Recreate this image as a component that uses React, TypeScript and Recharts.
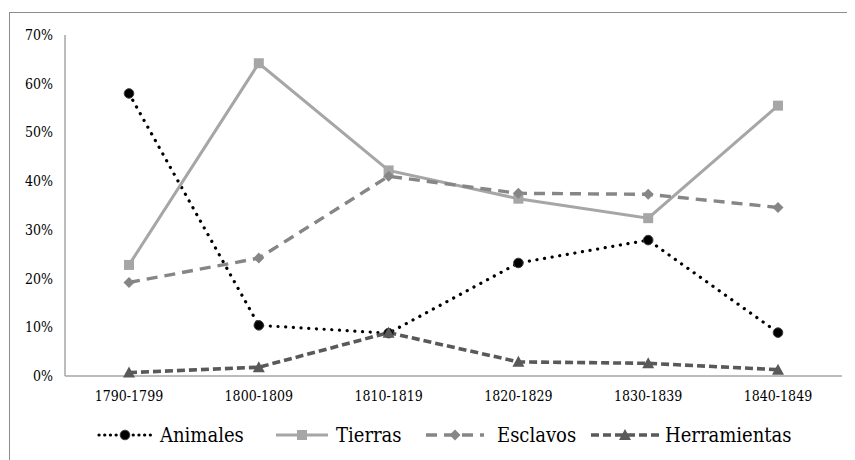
import { LineChart, Line, XAxis, YAxis } from "recharts";

const decades = ["1790-1799", "1800-1809", "1810-1819", "1820-1829", "1830-1839", "1840-1849"];
const animales = [58.0, 10.4, 8.8, 23.2, 27.9, 8.9];
const tierras = [22.8, 64.2, 42.2, 36.4, 32.4, 55.5];
const esclavos = [19.2, 24.2, 41.0, 37.5, 37.3, 34.6];
const herramientas = [0.7, 1.8, 8.9, 2.9, 2.6, 1.3];
const yTicks = [0, 10, 20, 30, 40, 50, 60, 70];

const data = decades.map((d, i) => ({
  decade: d,
  animales: animales[i],
  tierras: tierras[i],
  esclavos: esclavos[i],
  herramientas: herramientas[i],
}));

type Shape = "circle" | "square" | "diamond" | "triangle";

const series = [
  { key: "animales", name: "Animales", color: "#000000", width: 3.2, dash: "0.1 7.6", shape: "circle" as Shape, left: 97, iconW: 56, textLeft: 160 },
  { key: "tierras", name: "Tierras", color: "#A6A6A6", width: 3, dash: undefined, shape: "square" as Shape, left: 274, iconW: 56, textLeft: 336 },
  { key: "esclavos", name: "Esclavos", color: "#868686", width: 3.4, dash: "11 7", shape: "diamond" as Shape, left: 424, iconW: 62, textLeft: 497 },
  { key: "herramientas", name: "Herramientas", color: "#595959", width: 3.6, dash: "8 4", shape: "triangle" as Shape, left: 589, iconW: 72, textLeft: 665 },
];

function Marker({ cx, cy, shape, color }: { cx: number; cy: number; shape: Shape; color: string }) {
  if (cx == null || cy == null) return null;
  if (shape === "circle")
    return <circle cx={cx} cy={cy} r={4.8} fill="#000" stroke="#404040" strokeWidth={1} />;
  if (shape === "square")
    return <rect x={cx - 5} y={cy - 5} width={10} height={10} fill={color} />;
  if (shape === "diamond")
    return <polygon points={`${cx},${cy - 5.5} ${cx + 5.5},${cy} ${cx},${cy + 5.5} ${cx - 5.5},${cy}`} fill={color} />;
  return <polygon points={`${cx},${cy - 6} ${cx + 6},${cy + 5} ${cx - 6},${cy + 5}`} fill={color} />;
}

function LegendIcon({ s }: { s: (typeof series)[number] }) {
  return (
    <svg width={s.iconW} height={20} style={{ display: "block" }}>
      <line
        x1={2}
        y1={10}
        x2={s.iconW - 2}
        y2={10}
        stroke={s.color}
        strokeWidth={s.width}
        strokeDasharray={s.key === "animales" ? "0.1 5.6" : s.dash}
        strokeLinecap={s.key === "animales" ? "round" : "butt"}
      />
      <Marker cx={s.iconW / 2} cy={10} shape={s.shape} color={s.color} />
    </svg>
  );
}

const font = "'DejaVu Serif Condensed', 'DejaVu Serif', serif";

export default function App() {
  return (
    <div
      style={{
        position: "relative",
        width: 847,
        height: 452,
        overflow: "hidden",
        fontFamily: font,
        fontStretch: "condensed",
      }}
    >
      <LineChart width={847} height={452} data={data} margin={{ top: 27, right: 13, left: 7, bottom: 54 }}>
        <XAxis
          dataKey="decade"
          tickLine={false}
          axisLine={{ stroke: "#a6a6a6", strokeWidth: 1.5 }}
          tick={{ fontSize: 14, fill: "#000", fontFamily: font }}
          tickMargin={9}
          height={30}
          interval={0}
          padding={{ left: 64, right: 64 }}
        />
        <YAxis
          domain={[0, 70]}
          ticks={yTicks}
          tickFormatter={(v: number) => `${v}%`}
          tickLine={false}
          axisLine={{ stroke: "#a6a6a6", strokeWidth: 1.5 }}
          tick={{ fontSize: 14, fill: "#000", fontFamily: font }}
          tickMargin={6}
          width={50}
        />
        {series.map((s) => (
          <Line
            key={s.key}
            dataKey={s.key}
            name={s.name}
            type="linear"
            stroke={s.color}
            strokeWidth={s.width}
            strokeDasharray={s.dash}
            strokeLinecap={s.key === "animales" ? "round" : "butt"}
            dot={(p: any) => <Marker key={`${s.key}-${p.index}`} cx={p.cx} cy={p.cy} shape={s.shape} color={s.color} />}
            activeDot={false}
            isAnimationActive={false}
          />
        ))}
      </LineChart>
      <div
        style={{
          position: "absolute",
          left: 1,
          top: 4,
          width: 900,
          height: 500,
          borderTop: "1px solid #8c8c8c",
          borderLeft: "1px solid #8c8c8c",
          pointerEvents: "none",
        }}
      />
      {series.map((s) => (
        <div key={s.key}>
          <div style={{ position: "absolute", left: s.left - 8, top: 417 }}>
            <LegendIcon s={s} />
          </div>
          <div
            style={{
              position: "absolute",
              left: s.textLeft - 8,
              top: 414,
              fontSize: 20,
              lineHeight: "26px",
              whiteSpace: "nowrap",
            }}
          >
            {s.name}
          </div>
        </div>
      ))}
    </div>
  );
}
